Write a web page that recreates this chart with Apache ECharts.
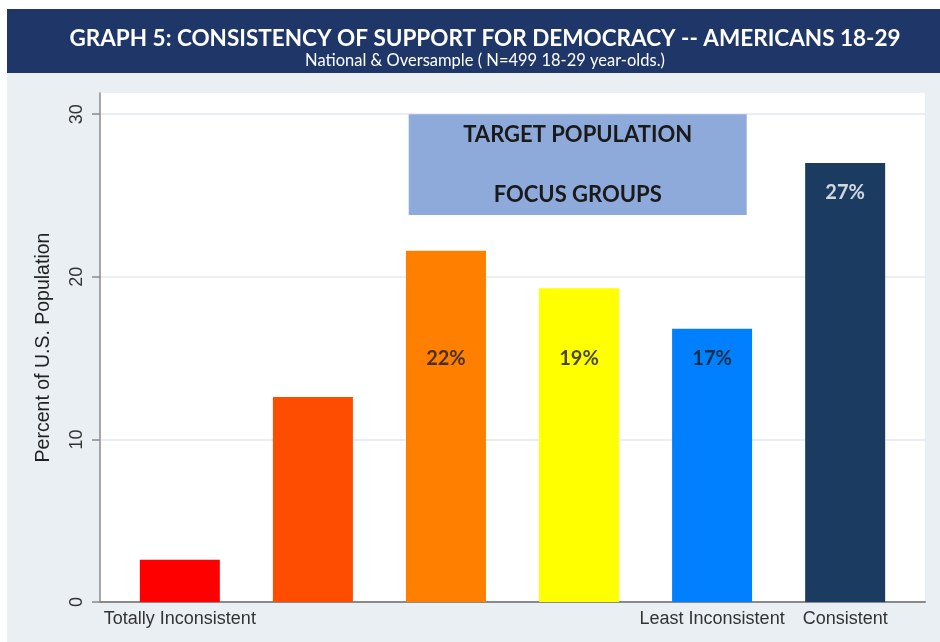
<!DOCTYPE html>
<html>
<head>
<meta charset="utf-8">
<title>Consistency of Support for Democracy</title>
<script src="https://cdn.jsdelivr.net/npm/echarts@6/dist/echarts.min.js"></script>
<style>
  html, body { margin: 0; padding: 0; background: #ffffff; }
  #chart { width: 940px; height: 642px; }
</style>
</head>
<body>
<div id="chart"></div>
<script>
// Share of 18-29 year-olds by consistency of support for democracy (percent)
const categories = ['Totally Inconsistent', '', '', '', 'Least Inconsistent', 'Consistent'];
const values = [2.6, 12.6, 21.6, 19.3, 16.8, 27.0];
const barColors = ['#ff0000', '#ff4d00', '#ff8000', '#ffff00', '#0080ff', '#1b3b60'];
const yTicks = [0, 10, 20, 30];
// bars whose percentage is printed on them
const labelledBars = [2, 3, 4, 5];

const titleText = 'GRAPH 5: CONSISTENCY OF SUPPORT FOR DEMOCRACY -- AMERICANS 18-29';
const subtitleText = 'National & Oversample ( N=499 18-29 year-olds.)';
const boxLines = ['TARGET POPULATION', 'FOCUS GROUPS'];

const chart = echarts.init(document.getElementById('chart'), null, { renderer: 'canvas' });

const barData = values.map((v, i) => ({
  value: [i, v],
  itemStyle: { color: barColors[i] }
}));

// percent labels: middle bars carry them at a common height, the last bar near its top
const labelData = labelledBars.map(i => ({
  value: [i, i === values.length - 1 ? values[i] - 1.8 : 15, values[i]],
  label: { color: i === values.length - 1 ? '#ffffff' : '#1a1a1a' }
}));

chart.setOption({
  animation: false,
  backgroundColor: '#ffffff',
  graphic: [
    { type: 'rect', z: -10, silent: true, shape: { x: 7, y: 9, width: 933, height: 633 },
      style: { fill: '#e9eff2' } },
    { type: 'rect', z: -9, silent: true, shape: { x: 7, y: 9, width: 933, height: 64 },
      style: { fill: '#1f3768' } }
  ],
  title: {
    text: titleText,
    subtext: subtitleText,
    left: 480,
    textAlign: 'center',
    top: 21,
    itemGap: 0,
    textStyle: { color: '#ffffff', fontFamily: 'Lato', fontWeight: 'bold', fontSize: 22.5, lineHeight: 26 },
    subtextStyle: { color: '#ffffff', fontFamily: 'Lato', fontSize: 16.5, lineHeight: 17 }
  },
  grid: {
    left: 100, right: 15, top: 93, bottom: 40,
    show: true, backgroundColor: '#ffffff', borderWidth: 0
  },
  xAxis: {
    type: 'value',
    min: -0.6,
    max: 5.6,
    axisLine: { show: true, onZero: false, lineStyle: { color: '#8a8a8a', width: 2 } },
    axisTick: { show: false },
    splitLine: { show: false },
    axisLabel: {
      customValues: categories.map((c, i) => i),
      formatter: v => categories[v] || '',
      color: '#333333',
      fontFamily: 'Liberation Sans',
      fontSize: 18,
      margin: 8
    }
  },
  yAxis: {
    type: 'value',
    min: 0,
    max: 31.3,
    interval: 10,
    name: 'Percent of U.S. Population',
    nameLocation: 'middle',
    nameRotate: 90,
    nameGap: 46,
    nameTextStyle: { color: '#222222', fontFamily: 'Liberation Sans', fontSize: 19.5 },
    axisLine: { show: true, onZero: false, lineStyle: { color: '#8a8a8a', width: 1.5 } },
    axisTick: { show: true, length: 8, lineStyle: { color: '#8a8a8a', width: 1.5 },
      customValues: yTicks },
    axisLabel: {
      customValues: yTicks,
      rotate: 90,
      margin: 14,
      color: '#333333',
      fontFamily: 'Liberation Sans',
      fontSize: 18
    },
    splitLine: { show: true, lineStyle: { color: '#e3e9f1', width: 1.5 } }
  },
  series: [
    {
      type: 'bar',
      data: barData,
      barWidth: 80,
      z: 2,
      markArea: {
        silent: true,
        z: 3,
        itemStyle: { color: '#8eaadb' },
        label: {
          show: true,
          position: 'inside',
          formatter: boxLines.join('\n\n\n'),
          color: '#1a1a1a',
          fontFamily: 'Lato',
          fontWeight: 'bold',
          fontSize: 22,
          lineHeight: 20
        },
        data: [[{ coord: [1.72, 30] }, { coord: [4.26, 23.8] }]]
      }
    },
    {
      type: 'scatter',
      data: labelData,
      symbolSize: 0,
      z: 5,
      itemStyle: { color: 'transparent' },
      label: {
        show: true,
        position: 'inside',
        formatter: p => Math.round(p.value[2]) + '%',
        fontFamily: 'Lato',
        fontWeight: 'bold',
        fontSize: 20
      }
    }
  ]
});
</script>
</body>
</html>
